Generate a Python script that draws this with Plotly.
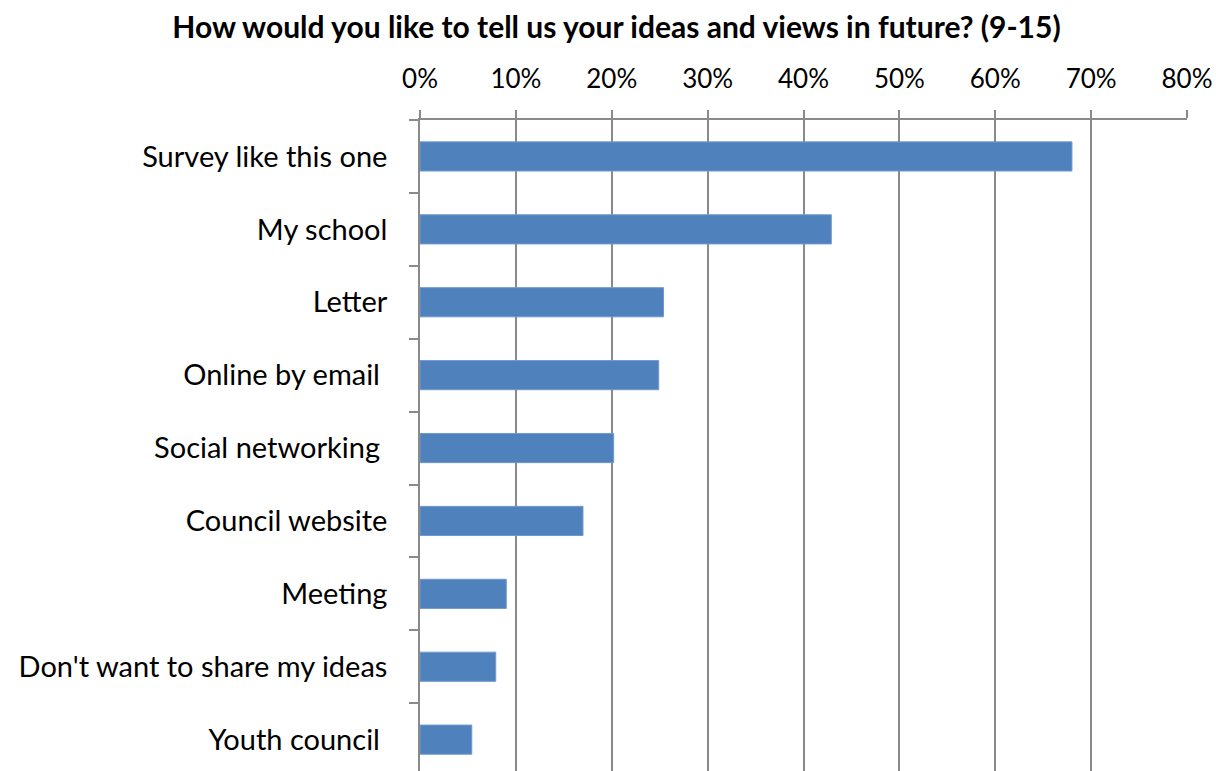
import plotly.graph_objects as go

categories = ["Survey like this one", "My school", "Letter", "Online by email ",
              "Social networking ", "Council website", "Meeting",
              "Don't want to share my ideas", "Youth council "]
values = [0.68, 0.429, 0.254, 0.249, 0.202, 0.170, 0.090, 0.079, 0.054]
title = "How would you like to tell us your ideas and views in future? (9-15)"

# keep trailing spaces visible in SVG text
labels = [c.rstrip() + ("\u00a0" if c.endswith(" ") else "") for c in categories]

FONT = "Lato"
GREY = "#8a8a8a"

fig = go.Figure(go.Bar(
    x=values, y=labels, orientation="h",
    marker=dict(color="#4F81BD", line=dict(color="#7199CE", width=1)),
    width=0.4,
))

fig.update_layout(
    width=1216, height=771,
    margin=dict(l=420, r=29, t=120, b=0),
    paper_bgcolor="white", plot_bgcolor="white",
    showlegend=False,
    title=dict(text="<b>" + title + "</b>", x=0.507, xanchor="center", y=0.9637, yanchor="middle",
               font=dict(family=FONT, size=30, color="black")),
    font=dict(family=FONT, color="black"),
)

fig.update_xaxes(
    side="top", range=[0, 0.8], dtick=0.1, tickformat=".0%",
    showgrid=True, gridcolor=GREY, gridwidth=1.6,
    showline=True, linecolor=GREY, linewidth=1.6,
    ticks="outside", ticklen=8, tickcolor=GREY, tickwidth=1.6,
    zeroline=False, ticklabelstandoff=12,
    tickfont=dict(family=FONT, size=26, color="black"),
)
fig.update_yaxes(
    type="category", categoryorder="array", categoryarray=labels,
    range=[8.43, -0.5], tickson="boundaries",
    showgrid=False, showline=True, linecolor=GREY, linewidth=1.6,
    ticks="outside", ticklen=9, tickcolor=GREY, tickwidth=1.6,
    ticklabelstandoff=25,
    tickfont=dict(family=FONT, size=29, color="black"),
)

fig.write_html("out.html", config={"displayModeBar": False},
               post_script="document.body.style.margin='0';")
